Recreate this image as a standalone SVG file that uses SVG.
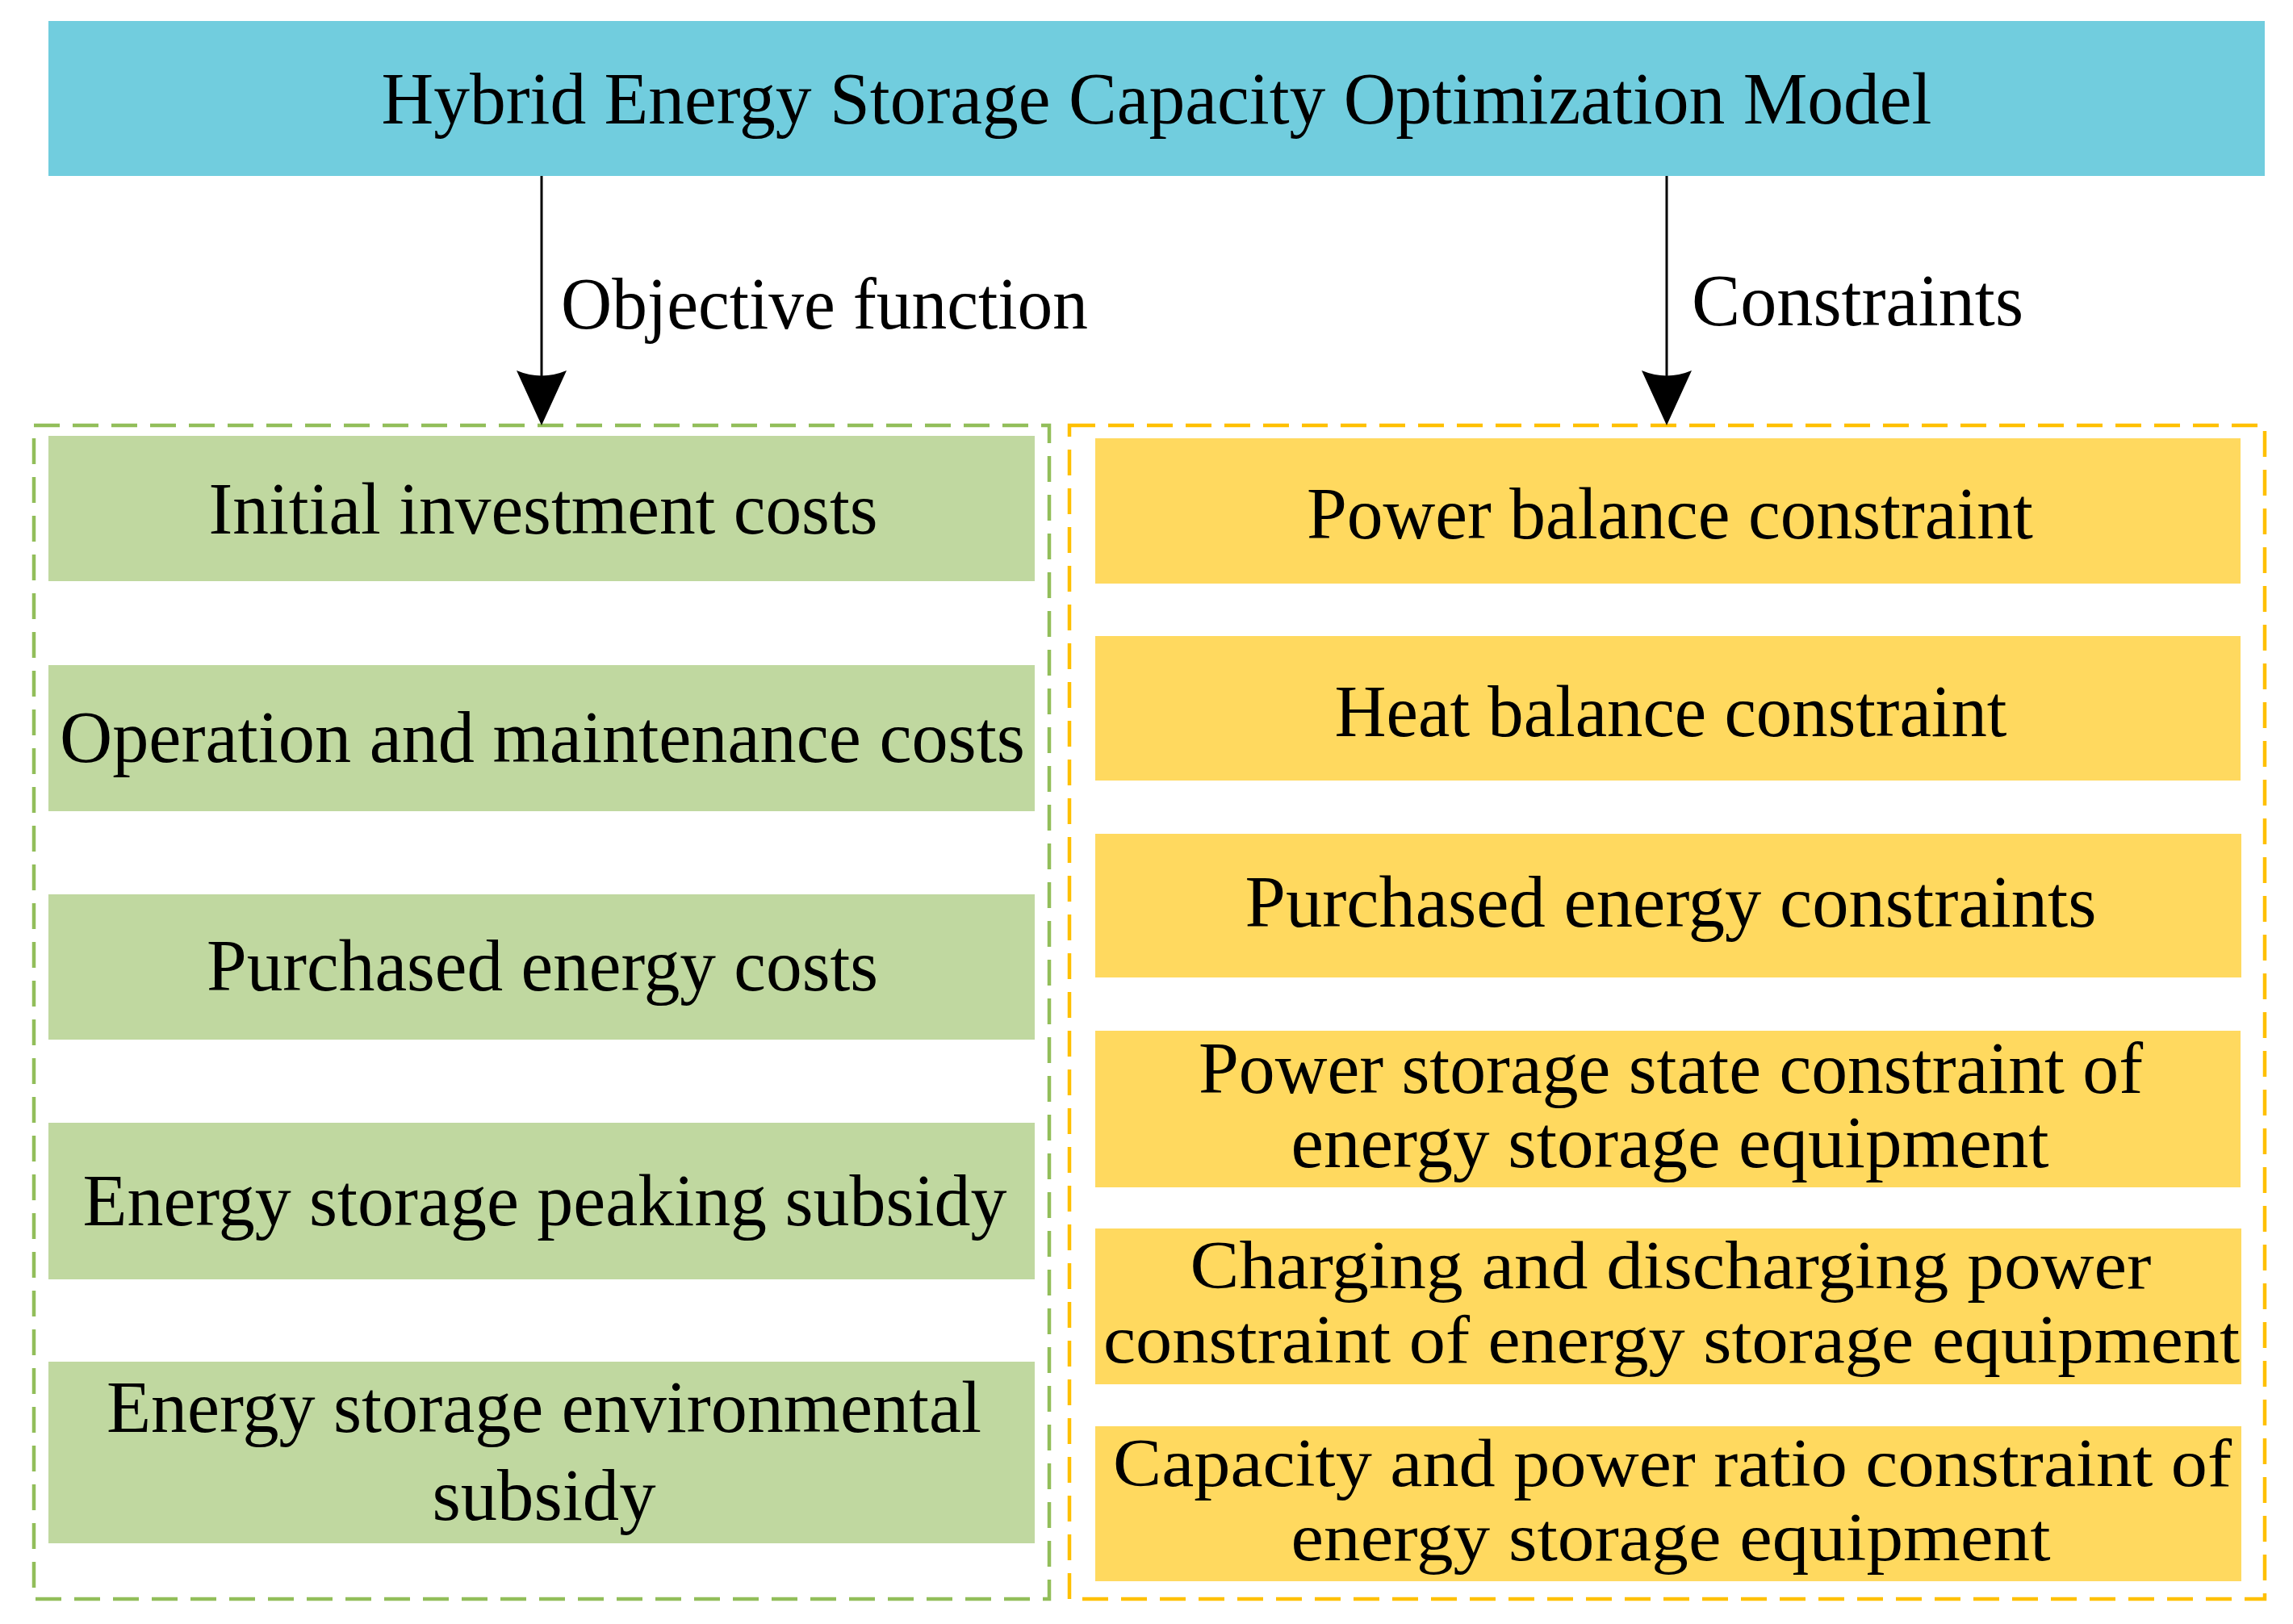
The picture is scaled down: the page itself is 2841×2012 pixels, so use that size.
<svg xmlns="http://www.w3.org/2000/svg" width="2841" height="2012" viewBox="0 0 2841 2012">
<defs>
<style>
.t{font-family:"Liberation Serif","DejaVu Serif",serif;font-size:92px;fill:#000;text-anchor:middle}
.s{font-size:85px}
.tl{font-family:"Liberation Serif","DejaVu Serif",serif;font-size:92px;fill:#000}
.g{fill:#C0D8A0}
.y{fill:#FFD95F}
.conn{stroke:#000;stroke-width:3;fill:none}
</style>
</defs>
<rect width="2841" height="2012" fill="#fff"/>
<g id="title">
<rect x="60" y="26" width="2746" height="192" fill="#71CDDE"/>
<text class="t" x="1433" y="153" textLength="1921" lengthAdjust="spacingAndGlyphs">Hybrid Energy Storage Capacity Optimization Model</text>
</g>
<g id="objective-group">
<rect x="42" y="527" width="1258" height="1454" fill="none" stroke="#92BE5A" stroke-width="4.5" stroke-dasharray="32 16"/>
</g>
<g id="constraints-group">
<rect x="1325" y="527" width="1481" height="1454" fill="none" stroke="#FFC000" stroke-width="4.5" stroke-dasharray="32 16"/>
</g>
<g id="connectors">
<line class="conn" x1="671" y1="218" x2="671" y2="470"/>
<path d="M671,527 L640,459 Q671,472 702,459 Z" fill="#000"/>
<text class="tl" x="695" y="407" textLength="653" lengthAdjust="spacingAndGlyphs">Objective function</text>
<line class="conn" x1="2065" y1="218" x2="2065" y2="470"/>
<path d="M2065,527 L2034,459 Q2065,472 2096,459 Z" fill="#000"/>
<text class="tl" x="2096" y="403" textLength="411" lengthAdjust="spacingAndGlyphs">Constraints</text>
</g>
<g id="obj1"><rect class="g" x="60" y="540" width="1222" height="180"/><text class="t" x="673" y="661" textLength="829" lengthAdjust="spacingAndGlyphs">Initial investment costs</text></g>
<g id="obj2"><rect class="g" x="60" y="824" width="1222" height="181"/><text class="t" x="672" y="944" textLength="1196" lengthAdjust="spacingAndGlyphs">Operation and maintenance costs</text></g>
<g id="obj3"><rect class="g" x="60" y="1108" width="1222" height="180"/><text class="t" x="672" y="1227" textLength="832" lengthAdjust="spacingAndGlyphs">Purchased energy costs</text></g>
<g id="obj4"><rect class="g" x="60" y="1391" width="1222" height="194"/><text class="t" x="675" y="1518" textLength="1145" lengthAdjust="spacingAndGlyphs">Energy storage peaking subsidy</text></g>
<g id="obj5"><rect class="g" x="60" y="1687" width="1222" height="225"/><text class="t" x="674" y="1774" textLength="1084" lengthAdjust="spacingAndGlyphs">Energy storage environmental</text><text class="t" x="674" y="1883" textLength="277" lengthAdjust="spacingAndGlyphs">subsidy</text></g>
<g id="con1"><rect class="y" x="1357" y="543" width="1419" height="180"/><text class="t" x="2069" y="667" textLength="900" lengthAdjust="spacingAndGlyphs">Power balance constraint</text></g>
<g id="con2"><rect class="y" x="1357" y="788" width="1419" height="179"/><text class="t" x="2070" y="912" textLength="833" lengthAdjust="spacingAndGlyphs">Heat balance constraint</text></g>
<g id="con3"><rect class="y" x="1357" y="1033" width="1420" height="178"/><text class="t" x="2070" y="1148" textLength="1055" lengthAdjust="spacingAndGlyphs">Purchased energy constraints</text></g>
<g id="con4"><rect class="y" x="1357" y="1277" width="1419" height="194"/><text class="t" x="2070" y="1354" textLength="1170" lengthAdjust="spacingAndGlyphs">Power storage state constraint of</text><text class="t" x="2069" y="1446" textLength="939" lengthAdjust="spacingAndGlyphs">energy storage equipment</text></g>
<g id="con5"><rect class="y" x="1357" y="1522" width="1420" height="193"/><text class="t s" x="2070" y="1596" textLength="1191" lengthAdjust="spacingAndGlyphs">Charging and discharging power</text><text class="t s" x="2071" y="1688" textLength="1408" lengthAdjust="spacingAndGlyphs">constraint of energy storage equipment</text></g>
<g id="con6"><rect class="y" x="1357" y="1767" width="1420" height="192"/><text class="t s" x="2072" y="1841" textLength="1386" lengthAdjust="spacingAndGlyphs">Capacity and power ratio constraint of</text><text class="t s" x="2070" y="1933" textLength="941" lengthAdjust="spacingAndGlyphs">energy storage equipment</text></g>
</svg>
